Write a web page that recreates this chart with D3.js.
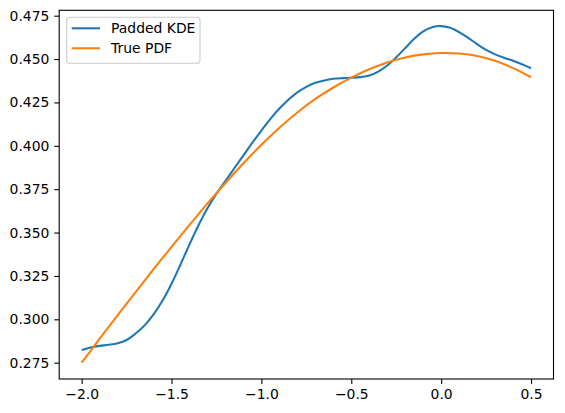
<!DOCTYPE html>
<html>
<head>
<meta charset="utf-8">
<script src="https://cdn.jsdelivr.net/npm/d3@7"></script>
<style>
    body { margin: 0; background: #fff; }
    svg { display: block; font-family: "DejaVu Sans", sans-serif; }
    .axis text { font-size: 13.9px; fill: #000; }
    .axis path, .axis line { stroke: #000; stroke-width: 1.1px; }
</style>
</head>
<body>
<svg id="chart" width="565" height="413"></svg>
<script>
/* global d3 : false */

// values
const kdeX = [-2.0, -1.95, -1.9, -1.85, -1.8, -1.75, -1.7, -1.65, -1.6, -1.55, -1.5, -1.45, -1.4, -1.35,
    -1.3, -1.25, -1.2, -1.15, -1.1, -1.05, -1.0, -0.95, -0.9, -0.85, -0.8, -0.75, -0.7, -0.65, -0.6, -0.55,
    -0.5, -0.45, -0.4, -0.35, -0.3, -0.25, -0.2, -0.15, -0.1, -0.05, 0.0, 0.05, 0.1, 0.15, 0.2, 0.25,
    0.3, 0.35, 0.4, 0.45, 0.5];
const kdeY = [0.2823, 0.2838, 0.2847, 0.2853, 0.2862, 0.2881, 0.2918, 0.2965, 0.3028, 0.3108, 0.3205, 0.3316,
    0.3432, 0.3542, 0.3640, 0.3724, 0.3798, 0.3872, 0.3945, 0.4018, 0.4088, 0.4155, 0.4215, 0.4266, 0.4308,
    0.4340, 0.4363, 0.4377, 0.4386, 0.4390, 0.4392, 0.4396, 0.4405, 0.4428, 0.4463, 0.4510, 0.4563, 0.4617,
    0.4660, 0.4684, 0.4690, 0.4680, 0.4655, 0.4622, 0.4586, 0.4553, 0.4527, 0.4507, 0.4490, 0.4470, 0.4447];

const pdfX = [-2.0, -1.9, -1.8, -1.7, -1.6, -1.5, -1.4, -1.3, -1.2, -1.1, -1.0, -0.9, -0.8, -0.7, -0.6, -0.5,
    -0.4, -0.3, -0.2, -0.1, 0.0, 0.1, 0.2, 0.3, 0.4, 0.5];
const pdfY = [0.275, 0.2888, 0.3023, 0.3157, 0.3289, 0.3418, 0.3544, 0.3668, 0.3786, 0.3899, 0.4006, 0.4104,
    0.4192, 0.4270, 0.4336, 0.4393, 0.4441, 0.4480, 0.4509, 0.4527, 0.4535, 0.4532, 0.4518, 0.4490, 0.4448, 0.4395];

const xTicks = [-2.0, -1.5, -1.0, -0.5, 0.0, 0.5];
const yTicks = [0.275, 0.300, 0.325, 0.350, 0.375, 0.400, 0.425, 0.450, 0.475];

const seriesNames = ["Padded KDE", "True PDF"];
const seriesColors = ["#1f77b4", "#ff7f0e"];

const box = { left: 59.2, right: 553.5, top: 10.3, bottom: 379 };

const x = d3.scaleLinear().domain([-2.125, 0.625]).range([box.left, box.right]);
const y = d3.scaleLinear().domain([0.2656, 0.4781]).range([box.bottom, box.top]);

const svg = d3.select("#chart");

const line = d3.line()
    .x(d => x(d[0]))
    .y(d => y(d[1]))
    .curve(d3.curveCatmullRom.alpha(0.5));

const series = [
    d3.zip(kdeX, kdeY),
    d3.zip(pdfX, pdfY)
];

svg.append("g")
    .selectAll("path")
    .data(series)
    .join("path")
    .attr("d", line)
    .attr("fill", "none")
    .attr("stroke", (d, i) => seriesColors[i])
    .attr("stroke-width", 2.08)
    .attr("stroke-linecap", "butt");

// axes
svg.append("g")
    .attr("class", "axis")
    .attr("transform", `translate(0,${box.bottom})`)
    .call(d3.axisBottom(x).tickValues(xTicks).tickFormat(d3.format(".1f")).tickSize(4.9).tickPadding(4.9).tickSizeOuter(0))
    .call(g => g.select(".domain").remove());

svg.append("g")
    .attr("class", "axis")
    .attr("transform", `translate(${box.left},0)`)
    .call(d3.axisLeft(y).tickValues(yTicks).tickFormat(d3.format(".3f")).tickSize(4.9).tickPadding(4.9).tickSizeOuter(0))
    .call(g => g.select(".domain").remove());

svg.selectAll(".axis text").attr("font-family", "DejaVu Sans");

svg.append("rect")
    .attr("x", box.left)
    .attr("y", box.top)
    .attr("width", box.right - box.left)
    .attr("height", box.bottom - box.top)
    .attr("fill", "none")
    .attr("stroke", "#000")
    .attr("stroke-width", 1.1);

// legend
const legend = svg.append("g").attr("transform", "translate(66.7,17.3)");

legend.append("rect")
    .attr("width", 133.3)
    .attr("height", 46)
    .attr("rx", 2.8)
    .attr("fill", "#fff")
    .attr("fill-opacity", 0.8)
    .attr("stroke", "#cccccc")
    .attr("stroke-width", 1.1);

const rows = legend.selectAll("g.row")
    .data(seriesNames)
    .join("g")
    .attr("class", "row")
    .attr("transform", (d, i) => `translate(0,${11 + i * 20})`);

rows.append("line")
    .attr("x1", 5)
    .attr("x2", 33.3)
    .attr("stroke", (d, i) => seriesColors[i])
    .attr("stroke-width", 2.08);

rows.append("text")
    .attr("x", 44.4)
    .attr("dy", "0.35em")
    .attr("font-size", 13.9)
    .text(d => d);
</script>
</body>
</html>
